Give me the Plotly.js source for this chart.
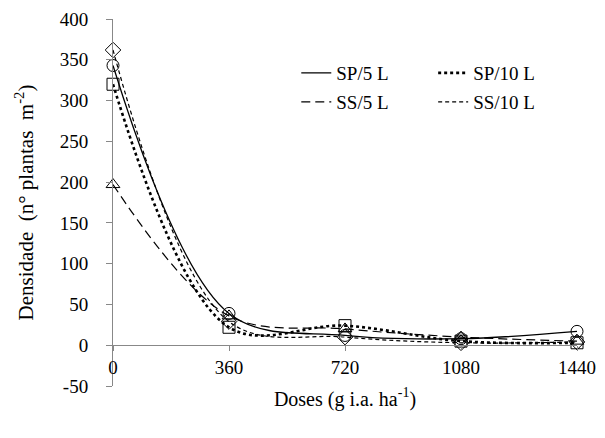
<!DOCTYPE html>
<html>
<head>
<meta charset="utf-8">
<script src="https://cdn.plot.ly/plotly-3.0.1.min.js"></script>
<style>html,body{margin:0;padding:0;background:#fff}</style>
</head>
<body>
<div id="chart" style="width:605px;height:438px"></div>
<script>
const doses = [0, 360, 720, 1080, 1440];
const tickLabels = ['0', '360', '720', '1080', '1440'];
const yTickVals = [-50, 0, 50, 100, 150, 200, 250, 300, 350, 400];
const yTickLabels = ['-50', '0', '50', '100', '150', '200', '250', '300', '350', '400'];
const seriesNames = ['SP/5 L', 'SP/10 L', 'SS/5 L', 'SS/10 L'];
const sp5 = [343, 39, 12, 8, 17];
const sp10 = [320, 22, 24, 5, 3];
const ss5 = [197, 36, 20, 10, 5];
const ss10 = [362, 29, 10, 3, 4];

const values = [sp5, sp10, ss5, ss10];
const symbols = ['circle-open', 'square-open', 'triangle-up-open', 'diamond-open'];
const dashes = ['solid', 'dot', '9px,5px', '4px,3px'];
const widths = [1.3, 2.6, 1.2, 1.2];
const legendIds = ['legend', 'legend2', 'legend3', 'legend4'];
const FONT = 'Times New Roman';

const traces = [];
values.forEach((v, i) => {
  traces.push({
    x: doses, y: v, mode: 'lines', name: seriesNames[i], legend: legendIds[i],
    line: {color: '#000', width: widths[i], dash: dashes[i], shape: 'spline', smoothing: 1.0},
    cliponaxis: false, hoverinfo: 'skip'
  });
});
values.forEach((v, i) => {
  traces.push({
    x: doses, y: v, mode: 'markers', showlegend: false,
    marker: {symbol: symbols[i], size: 12, color: '#000', line: {width: 1, color: '#000'}},
    cliponaxis: false
  });
});

function leg(xp, yp) {
  return {
    orientation: 'v', xanchor: 'left', yanchor: 'middle', x: xp, y: yp,
    font: {family: FONT, size: 19, color: '#000'},
    bgcolor: 'rgba(0,0,0,0)', xref: 'paper', yref: 'paper'
  };
}

const layout = {
  width: 605, height: 438,
  margin: {l: 113, r: 28, t: 19, b: 52},
  paper_bgcolor: '#fff', plot_bgcolor: '#fff',
  font: {family: FONT, color: '#000', size: 19},
  showlegend: true,
  legend: leg(0.395, 1 - 54 / 367),
  legend2: leg(0.69, 1 - 54 / 367),
  legend3: leg(0.395, 1 - 83 / 367),
  legend4: leg(0.69, 1 - 83 / 367),
  xaxis: {
    range: [0, 1440], tickvals: doses, ticktext: tickLabels,
    showgrid: false, zeroline: false, showline: true, linecolor: '#888', linewidth: 1,
    ticks: 'outside', ticklen: 5, tickcolor: '#888',
    anchor: 'free', position: 50 / 450,
    tickfont: {family: FONT, size: 19, color: '#000'},
    title: {text: 'Doses (g i.a. ha<sup>-1</sup>)', font: {family: FONT, size: 20, color: '#000'}, standoff: 14}
  },
  yaxis: {
    range: [-50, 400], tickvals: yTickVals, ticktext: yTickLabels,
    showgrid: false, zeroline: false, showline: true, linecolor: '#888', linewidth: 1,
    ticks: 'outside', ticklen: 6, tickcolor: '#888', ticklabelstandoff: 14,
    tickfont: {family: FONT, size: 19, color: '#000'},
    title: {text: 'Densidade  (n° plantas  m<sup>-2</sup>)', font: {family: FONT, size: 21, color: '#000'}, standoff: 20}
  }
};

Plotly.newPlot('chart', traces, layout, {displayModeBar: false, staticPlot: true});
</script>
</body>
</html>
